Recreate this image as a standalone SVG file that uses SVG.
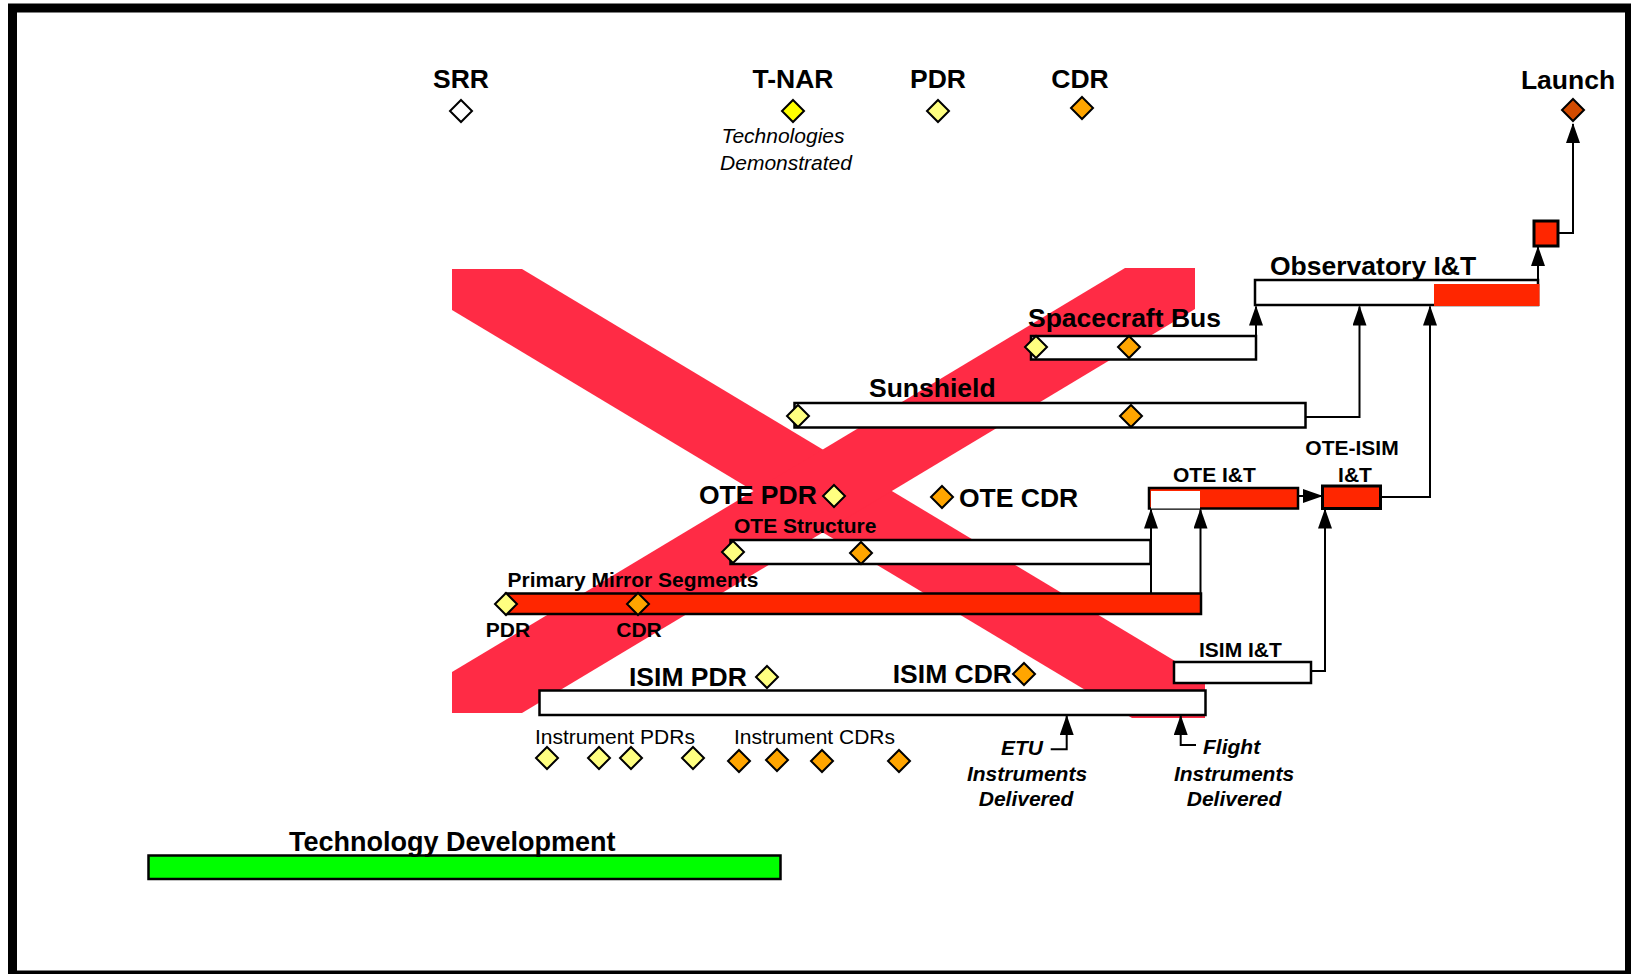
<svg xmlns="http://www.w3.org/2000/svg" width="1631" height="974" viewBox="0 0 1631 974">
<defs>
<style>
text{font-family:"Liberation Sans",Arial,sans-serif;fill:#000}
.b26{font-size:26.5px;font-weight:bold}
.b27{font-size:27px;font-weight:bold}
.b21{font-size:21px;font-weight:bold}
.bi21{font-size:21px;font-weight:bold;font-style:italic}
.r21{font-size:21px}
.i21{font-size:21px;font-style:italic}
.mid{text-anchor:middle}
.end{text-anchor:end}
.bar{stroke:#000;stroke-width:2.5}
.w{fill:#fff}
.red{fill:#FF2600}
.conn{fill:none;stroke:#000;stroke-width:2}
.dm{stroke:#000;stroke-width:2}
.ly{fill:#FFFF80}
.yy{fill:#FFFF00}
.or{fill:#FFA500}
.la{fill:#D24B00}
.wh{fill:#fff}
.xx{fill:#FF2B45}
</style>
<path id="dia" d="M0,-11L11,0L0,11L-11,0Z"/>
<marker id="ah" markerUnits="userSpaceOnUse" markerWidth="20" markerHeight="14" refX="19" refY="7" orient="auto">
<path d="M0,0L20,7L0,14Z" fill="#000"/>
</marker>
</defs>
<rect x="0" y="0" width="1631" height="974" fill="#fff"/>
<rect x="12.5" y="8" width="1617" height="967" fill="none" stroke="#000" stroke-width="9"/>

<g id="cross">
<polygon class="xx" points="452,269 522,269 1205,679 1205,718 1132,718 452,310"/>
<polygon class="xx" points="452,672 1125,268 1195,268 1195,309 522,713 452,713"/>
</g>

<g id="milestones">
<g id="srr"><text class="b26 mid" x="461" y="88">SRR</text><use href="#dia" class="dm wh" x="461" y="111"/></g>
<g id="tnar"><text class="b26 mid" x="793" y="88">T-NAR</text><use href="#dia" class="dm yy" x="793" y="111"/>
<text class="i21 mid" x="783" y="143">Technologies</text><text class="i21 mid" x="786" y="170">Demonstrated</text></g>
<g id="pdr"><text class="b26 mid" x="938" y="88">PDR</text><use href="#dia" class="dm ly" x="938" y="111"/></g>
<g id="cdr"><text class="b26 mid" x="1080" y="88">CDR</text><use href="#dia" class="dm or" x="1082" y="108"/></g>
<g id="launch"><text class="b26 mid" x="1568" y="89">Launch</text><use href="#dia" class="dm la" x="1573" y="110"/></g>
</g>

<g id="connectors">
<path class="conn" d="M1558,233H1573V124" marker-end="url(#ah)"/>
<path class="conn" d="M1538,280V247" marker-end="url(#ah)"/>
<path class="conn" d="M1256,336V306.5" marker-end="url(#ah)"/>
<path class="conn" d="M1305,417H1359.5V306.5" marker-end="url(#ah)"/>
<path class="conn" d="M1380,497H1430V306.5" marker-end="url(#ah)"/>
<path class="conn" d="M1298,496H1322" marker-end="url(#ah)"/>
<path class="conn" d="M1311,671H1325V509.5" marker-end="url(#ah)"/>
<path class="conn" d="M1151,593V509.5" marker-end="url(#ah)"/>
<path class="conn" d="M1200.5,593V509.5" marker-end="url(#ah)"/>
<path class="conn" d="M1050.7,749.3H1066.7V716" marker-end="url(#ah)"/>
<path class="conn" d="M1196,745H1180.7V716" marker-end="url(#ah)"/>
</g>

<g id="observatory">
<rect class="bar w" x="1255" y="280" width="283" height="25"/>
<rect class="red" x="1434" y="284" width="105.5" height="22"/>
<text class="b26" x="1270" y="275">Observatory I&amp;T</text>
</g>
<g id="final">
<rect class="red" x="1534" y="221" width="24" height="25" stroke="#000" stroke-width="3"/>
</g>

<g id="spacecraft">
<rect class="bar w" x="1031" y="336" width="225" height="23.5"/>
<text class="b26" x="1028" y="327">Spacecraft Bus</text>
<use href="#dia" class="dm ly" x="1036" y="347"/>
<use href="#dia" class="dm or" x="1129" y="347"/>
</g>

<g id="sunshield">
<rect class="bar w" x="794.5" y="403" width="511" height="24.5"/>
<text class="b26" x="869" y="397">Sunshield</text>
<use href="#dia" class="dm ly" x="798" y="416"/>
<use href="#dia" class="dm or" x="1131" y="416"/>
</g>

<g id="ote-reviews">
<text class="b26" x="699" y="504">OTE PDR</text>
<use href="#dia" class="dm ly" x="834" y="496"/>
<use href="#dia" class="dm or" x="942" y="497"/>
<text class="b26" x="959" y="507">OTE CDR</text>
</g>

<g id="ote-it">
<rect class="bar red" x="1149" y="488" width="149" height="20.5"/>
<rect class="w" x="1151" y="491" width="49" height="17.5"/>
<text class="b21" x="1173" y="482">OTE I&amp;T</text>
</g>

<g id="ote-isim">
<rect class="red" x="1322.5" y="486" width="58" height="22.5" stroke="#000" stroke-width="3"/>
<text class="b21 mid" x="1352" y="455">OTE-ISIM</text>
<text class="b21 mid" x="1355" y="482">I&amp;T</text>
</g>

<g id="ote-structure">
<rect class="bar w" x="730.5" y="540" width="420" height="24"/>
<text class="b21" x="734" y="533">OTE Structure</text>
<use href="#dia" class="dm ly" x="733" y="552"/>
<use href="#dia" class="dm or" x="861" y="553"/>
</g>

<g id="primary-mirror">
<rect class="bar red" x="506" y="593.5" width="695" height="20.5"/>
<text class="b21" x="507.5" y="587">Primary Mirror Segments</text>
<use href="#dia" class="dm ly" x="506" y="604"/>
<use href="#dia" class="dm or" x="638" y="604"/>
<text class="b21 mid" x="508" y="637">PDR</text>
<text class="b21 mid" x="639" y="637">CDR</text>
</g>

<g id="isim">
<rect class="bar w" x="539.5" y="690.5" width="666" height="24.5"/>
<text class="b26" x="629" y="686">ISIM PDR</text>
<use href="#dia" class="dm ly" x="767" y="677"/>
<text class="b26 end" x="1012" y="683">ISIM CDR</text>
<use href="#dia" class="dm or" x="1024" y="674"/>
</g>

<g id="instruments">
<text class="r21" x="535" y="744">Instrument PDRs</text>
<text class="r21" x="734" y="744">Instrument CDRs</text>
<use href="#dia" class="dm ly" x="547" y="758"/>
<use href="#dia" class="dm ly" x="599" y="758"/>
<use href="#dia" class="dm ly" x="631" y="758"/>
<use href="#dia" class="dm ly" x="693" y="758"/>
<use href="#dia" class="dm or" x="739" y="761"/>
<use href="#dia" class="dm or" x="777" y="760"/>
<use href="#dia" class="dm or" x="822" y="761"/>
<use href="#dia" class="dm or" x="899" y="761"/>
</g>

<g id="isim-it">
<rect class="bar w" x="1174" y="662" width="137" height="21"/>
<text class="b21" x="1199" y="657">ISIM I&amp;T</text>
</g>

<g id="etu">
<text class="bi21 end" x="1043" y="755">ETU</text>
<text class="bi21 mid" x="1027" y="781">Instruments</text>
<text class="bi21 mid" x="1026" y="806">Delivered</text>
</g>

<g id="flight">
<text class="bi21" x="1203" y="754">Flight</text>
<text class="bi21 mid" x="1234" y="781">Instruments</text>
<text class="bi21 mid" x="1234" y="806">Delivered</text>
</g>

<g id="techdev">
<rect class="bar" x="148.5" y="855.5" width="632" height="23.5" fill="#00FF00"/>
<text class="b27" x="289" y="851">Technology Development</text>
</g>
</svg>
